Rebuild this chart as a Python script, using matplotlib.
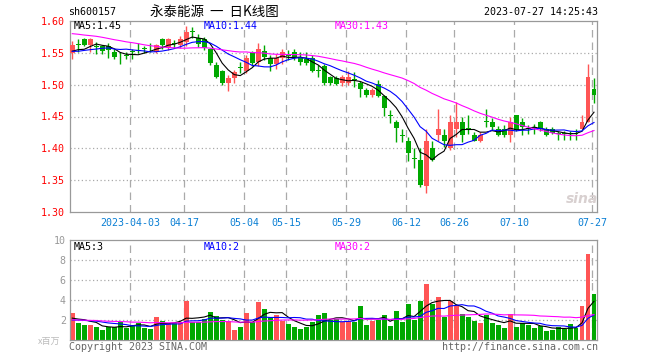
import numpy as np
import pandas as pd
import matplotlib
matplotlib.use("Agg")
import matplotlib.pyplot as plt

# x tick labels and the candle index they sit on
date_labels = ["2023-04-03", "04-17", "05-04", "05-15", "05-29", "06-12", "06-26", "07-10", "07-27"]
date_idx = [10, 19, 29, 36, 46, 56, 64, 74, 87]

opens = [1.550, 1.564, 1.572, 1.563, 1.561, 1.560, 1.561, 1.551, 1.544, 1.546,
         1.552, 1.554, 1.557, 1.558, 1.551, 1.572, 1.558, 1.565, 1.563, 1.567,
         1.585, 1.573, 1.572, 1.556, 1.531, 1.521, 1.502, 1.511, 1.527, 1.522,
         1.551, 1.535, 1.553, 1.542, 1.533, 1.542, 1.546, 1.551, 1.543, 1.541,
         1.542, 1.523, 1.530, 1.512, 1.511, 1.502, 1.503, 1.508, 1.502, 1.492,
         1.483, 1.501, 1.482, 1.453, 1.442, 1.421, 1.411, 1.384, 1.381, 1.341,
         1.400, 1.421, 1.421, 1.400, 1.431, 1.442, 1.432, 1.421, 1.412, 1.443,
         1.442, 1.431, 1.431, 1.421, 1.452, 1.442, 1.432, 1.433, 1.442, 1.431,
         1.431, 1.424, 1.424, 1.424, 1.424, 1.431, 1.442, 1.493]
highs = [1.568, 1.571, 1.574, 1.574, 1.567, 1.563, 1.566, 1.556, 1.552, 1.552,
         1.556, 1.566, 1.560, 1.566, 1.564, 1.573, 1.574, 1.570, 1.576, 1.592,
         1.591, 1.580, 1.575, 1.558, 1.535, 1.523, 1.515, 1.523, 1.535, 1.546,
         1.553, 1.565, 1.563, 1.546, 1.548, 1.556, 1.555, 1.556, 1.551, 1.551,
         1.546, 1.531, 1.533, 1.514, 1.514, 1.515, 1.521, 1.520, 1.505, 1.494,
         1.495, 1.508, 1.484, 1.460, 1.445, 1.431, 1.418, 1.400, 1.400, 1.431,
         1.412, 1.461, 1.431, 1.452, 1.472, 1.450, 1.452, 1.425, 1.425, 1.461,
         1.447, 1.435, 1.437, 1.450, 1.453, 1.447, 1.437, 1.438, 1.443, 1.433,
         1.433, 1.428, 1.428, 1.428, 1.430, 1.452, 1.532, 1.511]
lows = [1.541, 1.551, 1.560, 1.552, 1.548, 1.548, 1.542, 1.540, 1.532, 1.540,
        1.540, 1.549, 1.550, 1.551, 1.549, 1.556, 1.555, 1.557, 1.558, 1.561,
        1.573, 1.559, 1.555, 1.531, 1.510, 1.500, 1.490, 1.502, 1.518, 1.518,
        1.530, 1.530, 1.539, 1.522, 1.525, 1.532, 1.538, 1.538, 1.531, 1.531,
        1.520, 1.512, 1.500, 1.499, 1.499, 1.498, 1.500, 1.497, 1.481, 1.480,
        1.481, 1.480, 1.451, 1.440, 1.410, 1.410, 1.380, 1.369, 1.340, 1.330,
        1.380, 1.411, 1.402, 1.398, 1.418, 1.410, 1.423, 1.411, 1.410, 1.433,
        1.429, 1.420, 1.418, 1.410, 1.428, 1.421, 1.423, 1.423, 1.428, 1.420,
        1.423, 1.413, 1.413, 1.413, 1.413, 1.430, 1.442, 1.471]
closes = [1.563, 1.562, 1.563, 1.572, 1.559, 1.553, 1.555, 1.543, 1.543, 1.545,
          1.551, 1.553, 1.556, 1.557, 1.562, 1.563, 1.572, 1.564, 1.572, 1.583,
          1.583, 1.564, 1.557, 1.534, 1.512, 1.502, 1.511, 1.520, 1.526, 1.542,
          1.534, 1.556, 1.543, 1.533, 1.542, 1.551, 1.545, 1.543, 1.535, 1.534,
          1.522, 1.521, 1.503, 1.502, 1.501, 1.512, 1.512, 1.507, 1.493, 1.483,
          1.492, 1.482, 1.463, 1.451, 1.432, 1.420, 1.392, 1.383, 1.342, 1.412,
          1.381, 1.431, 1.412, 1.442, 1.442, 1.421, 1.431, 1.412, 1.421, 1.442,
          1.433, 1.421, 1.421, 1.442, 1.429, 1.433, 1.431, 1.432, 1.431, 1.421,
          1.424, 1.423, 1.423, 1.423, 1.423, 1.442, 1.512, 1.484]
# volume in millions of shares
volumes = [2.73, 1.73, 1.50, 1.50, 1.33, 1.00, 1.27, 1.27, 1.83, 1.23,
           1.50, 1.73, 1.23, 1.10, 2.33, 1.93, 1.57, 1.67, 1.83, 3.93,
           1.83, 1.83, 2.07, 2.77, 2.43, 2.00, 1.93, 1.00, 1.33, 2.73,
           1.83, 3.83, 3.10, 2.33, 2.50, 1.93, 1.60, 1.33, 1.10, 1.33,
           1.77, 2.50, 2.73, 2.00, 2.07, 1.83, 1.93, 1.83, 3.40, 1.50,
           1.93, 2.00, 2.50, 1.40, 2.90, 1.83, 3.60, 2.00, 3.90, 5.60,
           3.60, 4.33, 2.33, 3.93, 3.50, 2.57, 2.33, 1.93, 1.73, 2.50,
           1.73, 1.50, 1.23, 2.60, 1.33, 1.67, 1.50, 1.17, 1.43, 0.93,
           1.00, 1.33, 1.07, 1.60, 1.17, 3.40, 8.60, 4.60]

# sessions before the window, only used to warm up the moving averages
prev_closes = [1.59, 1.60, 1.60, 1.59, 1.60, 1.61, 1.60, 1.59, 1.60, 1.59,
               1.60, 1.61, 1.60, 1.59, 1.60, 1.59, 1.58, 1.59, 1.58, 1.57,
               1.56, 1.55, 1.56, 1.55, 1.54, 1.55, 1.56, 1.55, 1.54]
prev_volumes = [2.4, 1.8, 2.2, 1.6, 2.5, 2.1, 1.7, 2.3, 1.9, 2.6,
                1.8, 2.0, 2.2, 1.5, 2.4, 1.9, 1.7, 2.1, 2.3, 1.6,
                1.8, 1.7, 2.0, 1.6, 1.9, 2.2, 1.8, 2.3, 1.9]

RED = "#ff5555"
GREEN = "#00a800"
GRID = "#aaaaaa"
FRAME = "#999999"
MONO = "DejaVu Sans Mono"
CJK = ["Noto Sans CJK SC", "DejaVu Sans"]
FS = 7.2
W, H = 660, 360


def moving_avg(prev, vals, n):
    s = pd.Series(prev + vals)
    return s.rolling(n, min_periods=1).mean().iloc[len(prev):].to_numpy()


def frame(ax):
    for sp in ax.spines.values():
        sp.set_color(FRAME)
        sp.set_linewidth(0.9)
    ax.set_xlim(-0.38, 87.5)
    ax.set_xticks([i - 0.33 for i in date_idx])
    for i in date_idx:
        ax.axvline(i - 0.33, color=GRID, lw=0.9, ls=(0, (6, 4)), zorder=0)
    ax.tick_params(length=0)


def px(x, y):
    return x / W, 1 - y / H


fig = plt.figure(figsize=(6.6, 3.6), dpi=100)
ax = fig.add_axes([70 / W, 1 - 212 / H, 527 / W, 191 / H])
axv = fig.add_axes([70 / W, 1 - 340 / H, 527 / W, 100 / H])

o = np.array(opens)
c = np.array(closes)
up = c >= o
colors = np.where(up, RED, GREEN)
idx = np.arange(len(closes))

# price panel
frame(ax)
ax.set_ylim(1.30, 1.60)
ax.set_yticks(np.arange(1.30, 1.601, 0.05))
ax.set_yticklabels([f"{v:.2f}" for v in np.arange(1.30, 1.601, 0.05)],
                   family=MONO, fontsize=FS, color="red")
for lvl in np.arange(1.35, 1.56, 0.05):
    ax.axhline(lvl, color=GRID, lw=0.9, ls=(0, (1, 2)), zorder=0)
ax.set_xticklabels(date_labels, family=MONO, fontsize=FS, color="#0a7fd4")
ax.tick_params(axis="x", pad=4.5)
ax.tick_params(axis="y", pad=3.5)

ax.vlines(idx, lows, highs, colors=colors, lw=1.0, zorder=2)
body = np.maximum(np.abs(c - o), 0.0012)
ax.bar(idx, body, bottom=np.minimum(o, c), width=0.83, color=colors, lw=0, zorder=3)

ax.plot(idx, moving_avg(prev_closes, closes, 5), color="black", lw=0.8, zorder=4)
ax.plot(idx, moving_avg(prev_closes, closes, 10), color="#0000ff", lw=0.8, zorder=4)
ax.plot(idx, moving_avg(prev_closes, closes, 30), color="#ff00ff", lw=0.8, zorder=4)

# volume panel
frame(axv)
axv.set_ylim(0, 10)
axv.set_yticks([2, 4, 6, 8, 10])
axv.set_yticklabels(["2", "4", "6", "8", "10"], family=MONO, fontsize=FS, color="#999999")
axv.tick_params(axis="y", pad=3)
axv.set_xticklabels([])
for lvl in [2, 4, 6, 8]:
    axv.axhline(lvl, color=GRID, lw=0.9, ls=(0, (1, 2)), zorder=0)
axv.bar(idx, volumes, width=0.83, color=colors, lw=0, zorder=2)
axv.plot(idx, moving_avg(prev_volumes, volumes, 5), color="black", lw=0.8, zorder=4)
axv.plot(idx, moving_avg(prev_volumes, volumes, 10), color="#0000ff", lw=0.8, zorder=4)
axv.plot(idx, moving_avg(prev_volumes, volumes, 30), color="#ff00ff", lw=0.8, zorder=4)

# header
fig.text(*px(68, 12), "sh600157", family=MONO, fontsize=FS, va="center", ha="left")
fig.text(*px(150, 12), "永泰能源  一  日K线图", family=CJK, fontsize=9.7,
         va="center", ha="left")
fig.text(*px(598, 12), "2023-07-27 14:25:43", family=MONO, fontsize=FS, va="center", ha="right")

# legends
fig.text(*px(74, 26), "MA5:1.45", family=MONO, fontsize=FS, va="center", color="black")
fig.text(*px(204, 26), "MA10:1.44", family=MONO, fontsize=FS, va="center", color="#0000ff")
fig.text(*px(335, 26), "MA30:1.43", family=MONO, fontsize=FS, va="center", color="#ff00ff")
fig.text(*px(74, 247), "MA5:3", family=MONO, fontsize=FS, va="center", color="black")
fig.text(*px(204, 247), "MA10:2", family=MONO, fontsize=FS, va="center", color="#0000ff")
fig.text(*px(335, 247), "MA30:2", family=MONO, fontsize=FS, va="center", color="#ff00ff")

# footer
fig.text(*px(38, 341), "x百万", family=CJK, fontsize=6.5,
         va="center", ha="left", color="#bbbbbb")
fig.text(*px(69, 347), "Copyright 2023 SINA.COM", family=MONO, fontsize=FS,
         va="center", ha="left", color="#666666")
fig.text(*px(598, 347), "http://finance.sina.com.cn", family=MONO, fontsize=FS,
         va="center", ha="right", color="#666666")

# watermark
fig.text(*px(582, 199), "sina", fontsize=10, style="italic", weight="bold",
         color="#d8d0d0", ha="center", va="center")

fig.savefig("out.png", dpi=100)
